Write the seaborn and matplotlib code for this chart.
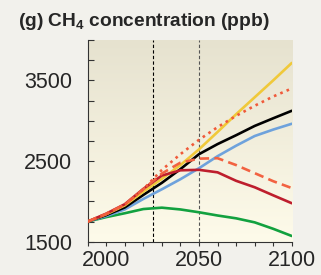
import numpy as np
import pandas as pd
import matplotlib
matplotlib.use('Agg')
import matplotlib.pyplot as plt
from matplotlib.colors import LinearSegmentedColormap
import seaborn as sns

# CH4 concentration (ppb) by scenario
years = [1990, 2000, 2010, 2020, 2030, 2040, 2050, 2060, 2070, 2080, 2090, 2100]
yellow = [1750, 1840, 1950, 2120, 2280, 2450, 2645, 2860, 3080, 3290, 3500, 3716]
red_dotted = [1750, 1845, 1960, 2150, 2390, 2585, 2763, 2920, 3060, 3185, 3300, 3400]
black = [1750, 1830, 1925, 2080, 2230, 2400, 2585, 2710, 2820, 2935, 3030, 3123]
blue = [1750, 1818, 1900, 2030, 2150, 2275, 2411, 2560, 2690, 2810, 2890, 2962]
red_dashed = [1750, 1845, 1960, 2150, 2345, 2480, 2530, 2535, 2450, 2350, 2250, 2165]
dark_red = [1750, 1848, 1965, 2155, 2320, 2385, 2391, 2360, 2255, 2175, 2075, 1977]
green = [1750, 1805, 1853, 1905, 1922, 1900, 1865, 1825, 1790, 1740, 1660, 1571]

# drawing order: later entries end up on top
series = {'green': green, 'blue': blue, 'black': black, 'yellow': yellow,
          'dark_red': dark_red, 'red_dashed': red_dashed, 'red_dotted': red_dotted}
palette = {'yellow': '#f0c93a', 'red_dotted': '#f05a3a', 'black': '#000000',
           'blue': '#6ea2dc', 'red_dashed': '#f26241', 'dark_red': '#be1e2d',
           'green': '#12a13f'}
dashes = {'yellow': '', 'red_dotted': (1, 1.6), 'black': '', 'blue': '',
          'red_dashed': (3.5, 2), 'dark_red': '', 'green': ''}

df = pd.DataFrame([(k, y, v) for k, vals in series.items() for y, v in zip(years, vals)],
                  columns=['scenario', 'year', 'ppb'])

sns.set_style('ticks')
plt.rcParams['font.family'] = ['Liberation Sans', 'DejaVu Sans']
plt.rcParams['mathtext.fontset'] = 'custom'
plt.rcParams['mathtext.bf'] = 'Liberation Sans:bold'
plt.rcParams['mathtext.rm'] = 'Liberation Sans'

fig = plt.figure(figsize=(3.21, 2.75), dpi=100, facecolor='#f2f1ec')
ax = fig.add_axes([0.273, 0.121, 0.636, 0.7335])

# background gradient: beige at top, pale cream at bottom
cmap = LinearSegmentedColormap.from_list('bg', ['#e6e2cf', '#fefbea'])
ax.imshow(np.linspace(0, 1, 256).reshape(-1, 1), cmap=cmap, aspect='auto',
          origin='upper', extent=[1990, 2100, 1500, 4000], zorder=0)

ax.axvline(2025, color='black', lw=0.8, ls=(0, (3, 2)), zorder=1)
ax.axvline(2050, color='#555555', lw=0.8, ls=(0, (3, 2)), zorder=1)

sns.lineplot(data=df, x='year', y='ppb', hue='scenario', style='scenario',
             palette=palette, dashes=dashes, linewidth=1.9, legend=False, ax=ax, zorder=3)

ax.set_xlim(1990, 2100)
ax.set_ylim(1500, 4000)
ax.set_xticks([2000, 2050, 2100])
ax.set_xticks(np.arange(1990, 2101, 10), minor=True)
ax.set_yticks([1500, 2500, 3500])
ax.set_yticks(np.arange(1500, 4001, 250), minor=True)
ax.tick_params(axis='x', which='both', direction='out', length=3, width=0.8,
               labelsize=15.5, pad=3, color='#333333')
ax.tick_params(axis='y', which='both', direction='in', length=4, width=0.8,
               labelsize=15.5, pad=11, color='#333333')
ax.set_xlabel('')
ax.set_ylabel('')
for s in ['top', 'right']:
    ax.spines[s].set_visible(False)
for s in ['left', 'bottom']:
    ax.spines[s].set_color('#333333')
    ax.spines[s].set_linewidth(0.8)

fig.text(0.056, 0.905, r'(g) CH$_\mathbf{4}$ concentration (ppb)', fontsize=13.8,
         fontweight='bold', ha='left', va='baseline')

fig.savefig('out.png', dpi=100, facecolor=fig.get_facecolor())
